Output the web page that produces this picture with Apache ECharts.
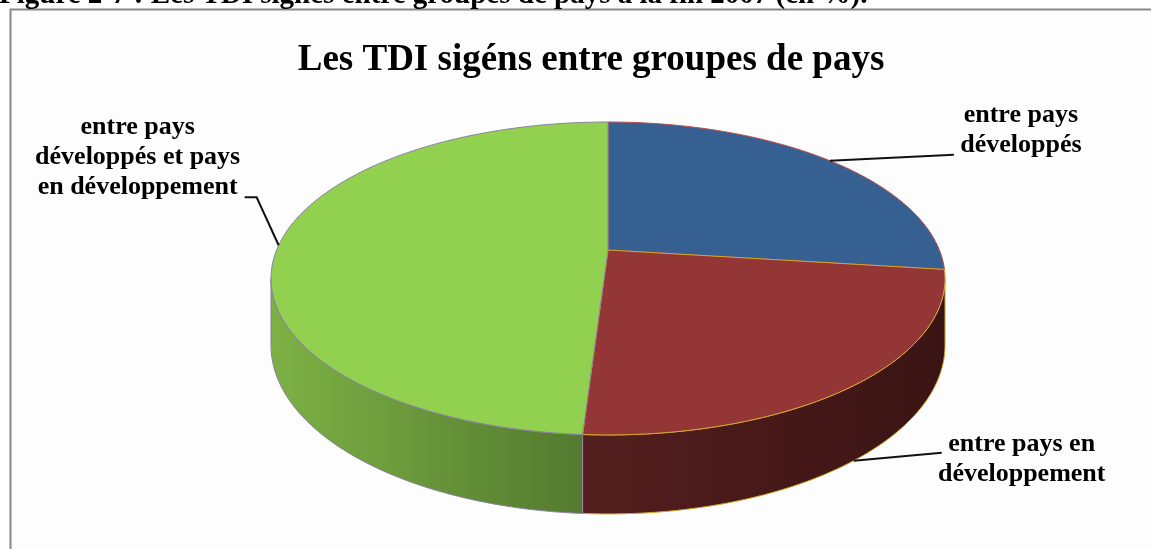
<!DOCTYPE html>
<html lang="fr">
<head>
<meta charset="UTF-8">
<title>Les TDI signés entre groupes de pays</title>
<script src="https://cdn.jsdelivr.net/npm/echarts@6/dist/echarts.min.js"></script>
<style>
    html, body { margin: 0; padding: 0; background: #fff; }
    #main { width: 1151px; height: 549px; }
</style>
</head>
<body>
<div id="main"></div>
<script type="text/javascript">

// data (shares in %)
var categories = ['entre pays\ndéveloppés', 'entre pays en\ndéveloppement', 'entre pays\ndéveloppés et pays\nen développement'];
var values = [27, 24, 49];

var caption = 'Figure 2-7 : Les TDI signés entre groupes de pays à la fin 2007 (en %).';
var titleText = 'Les TDI sigéns entre groupes de pays';

// styles
var topColors = ['#365f92', '#943635', '#92d050'];
var edgeColors = ['#c0504d', '#d4a72c', '#8c82a3'];
var sideColors = [['#2a4a73', '#223c5e'], ['#541e1e', '#3a1414'], ['#7db144', '#537a2f']];
var labelFont = 'bold 26px "Liberation Serif", "Times New Roman", serif';

// perspective pie geometry (3d pie seen from above, Excel style)
var pie = { cx: 608, cy: 250, sx: 331.4, sy: 151.3, k: 0.182, depth: 64.6 };

// label placement, relative to the leader anchor on the slice edge
var labelLayout = [
    { leader: [[124, -6]], text: [191, -30] },
    { leader: [[88, -8]], text: [168, -1] },
    { leader: [[-22, -48], [-34, -48]], text: [-141, -88] }
];

var total = values.reduce(function (a, b) { return a + b; }, 0);
var starts = [];
var acc = 0;
values.forEach(function (v) {
    starts.push(acc / total * 360);
    acc += v;
});

// phi: degrees clockwise from 12 o'clock, h: drop below the top face
function project(phi, h) {
    var p = phi * Math.PI / 180;
    var u = Math.sin(p), v = -Math.cos(p);
    var w = 1 - pie.k * v;
    return [pie.cx + pie.sx * u / w, pie.cy + (pie.sy * v + h) / w];
}

function arc(a0, a1, h) {
    var pts = [];
    var n = Math.max(2, Math.ceil(Math.abs(a1 - a0) / 1.5));
    for (var i = 0; i <= n; i++) {
        pts.push(project(a0 + (a1 - a0) * i / n, h));
    }
    return pts;
}

var frontFrom = Math.acos(-pie.k) * 180 / Math.PI;
var frontTo = 360 - frontFrom;

function sliceRange(i) {
    var a0 = starts[i];
    return [a0, a0 + values[i] / total * 360];
}

function renderSide(params, api) {
    var i = params.dataIndex;
    var r = sliceRange(i);
    var lo = Math.max(r[0], frontFrom), hi = Math.min(r[1], frontTo);
    if (hi <= lo) return null;
    var pts = arc(lo, hi, 0).concat(arc(hi, lo, pie.depth));
    return {
        type: 'polygon',
        shape: { points: pts },
        style: {
            fill: new echarts.graphic.LinearGradient(0, 0, 1, 0, [
                { offset: 0, color: sideColors[i][0] },
                { offset: 1, color: sideColors[i][1] }
            ]),
            stroke: edgeColors[i],
            lineWidth: 1
        }
    };
}

function renderTop(params, api) {
    var i = params.dataIndex;
    var r = sliceRange(i);
    var pts = [[pie.cx, pie.cy]].concat(arc(r[0], r[1], 0));

    var mid = (r[0] + r[1]) / 2;
    var front = -Math.cos(mid * Math.PI / 180) > pie.k;
    var anchor = project(mid, front ? pie.depth : 0);
    var lay = labelLayout[i];
    var leader = [anchor].concat(lay.leader.map(function (d) {
        return [anchor[0] + d[0], anchor[1] + d[1]];
    }));

    return {
        type: 'group',
        children: [{
            type: 'polygon',
            shape: { points: pts },
            style: { fill: topColors[i], stroke: edgeColors[i], lineWidth: 1 }
        }, {
            type: 'polyline',
            shape: { points: leader },
            style: { stroke: '#111', lineWidth: 2, fill: null }
        }, {
            type: 'text',
            x: anchor[0] + lay.text[0],
            y: anchor[1] + lay.text[1],
            style: {
                text: categories[i],
                font: labelFont,
                fill: '#000',
                align: 'center',
                verticalAlign: 'middle',
                lineHeight: 30
            }
        }]
    };
}

var myChart = echarts.init(document.getElementById('main'));

var option = {
    animation: false,
    backgroundColor: '#fff',
    title: {
        text: titleText,
        left: 586,
        top: 37,
        textAlign: 'center',
        textStyle: {
            fontFamily: '"Liberation Serif", "Times New Roman", serif',
            fontWeight: 'bold',
            fontSize: 37,
            color: '#000'
        }
    },
    graphic: [{
        type: 'rect',
        z: 0,
        shape: { x: 10.5, y: 9.5, width: 1200, height: 600 },
        style: { fill: '#fdfdfd', stroke: '#888', lineWidth: 2 }
    }, {
        type: 'text',
        z: 10,
        left: -1,
        top: -19,
        style: {
            text: caption,
            font: 'bold 29px "Liberation Serif", "Times New Roman", serif',
            fill: '#000'
        }
    }],
    series: [{
        type: 'custom',
        name: 'sides',
        coordinateSystem: 'none',
        z: 2,
        silent: true,
        data: values,
        renderItem: renderSide
    }, {
        type: 'custom',
        name: 'tops',
        coordinateSystem: 'none',
        z: 3,
        silent: true,
        data: values,
        renderItem: renderTop
    }]
};
myChart.setOption(option);
</script>
</body>
</html>
